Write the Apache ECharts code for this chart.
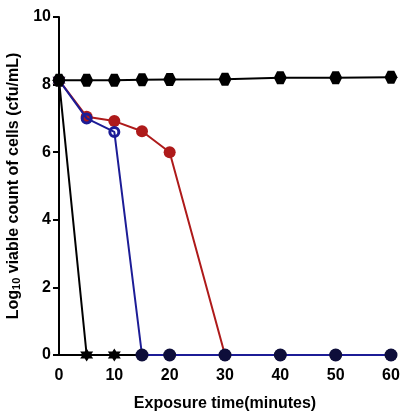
<!DOCTYPE html>
<html>
<head>
<meta charset="utf-8">
<script src="https://cdn.jsdelivr.net/npm/echarts@6/dist/echarts.min.js"></script>
<style>
  html, body { margin: 0; padding: 0; background: #fff; }
  #chart { width: 402px; height: 414px; }
</style>
</head>
<body>
<div id="chart"></div>
<script>
// sampling times (minutes)
const times = [0, 5, 10, 15, 20, 30, 40, 50, 60];
// log10 cfu/mL per treatment
const control = [8.13, 8.13, 8.13, 8.14, 8.15, 8.16, 8.2, 8.2, 8.22];
const redVals = [8.13, 7.05, 6.92, 6.62, 6.0, 0, 0, 0, 0];
const blueVals = [8.13, 7.0, 6.6, 0, 0, 0, 0, 0, 0];
const fastKill = [8.13, 0, 0];
const yTicks = [0, 2, 4, 6, 8, 10];

const hexagon = 'path://M2,0 L6,0 L8,3.5 L6,7 L2,7 L0,3.5 Z';
const star6 = 'path://M5,0 L6.5,2.4 L10,2.4 L8.2,5 L10,7.6 L6.5,7.6 L5,10 L3.5,7.6 L0,7.6 L1.8,5 L0,2.4 L3.5,2.4 Z';
// thick ring (outer cw, inner ccw so the middle stays open)
const ring = 'path://M0,5 A5,5 0 1,1 10,5 A5,5 0 1,1 0,5 Z M2.5,5 A2.5,2.5 0 1,0 7.5,5 A2.5,2.5 0 1,0 2.5,5 Z';

const pairs = vals => vals.map((v, i) => [times[i], v]);

const chart = echarts.init(document.getElementById('chart'));

const font = 'Liberation Sans, Arial, sans-serif';

chart.setOption({
  animation: false,
  grid: { left: 59, right: 11, top: 17, bottom: 59, outerBoundsMode: 'none' },
  xAxis: {
    type: 'value',
    min: 0, max: 60, interval: 10,
    name: 'Exposure time(minutes)',
    nameLocation: 'middle',
    nameGap: 41,
    nameTextStyle: { fontFamily: font, fontWeight: 'bold', fontSize: 16, color: '#000' },
    axisLine: { onZero: false, lineStyle: { color: '#000', width: 2 } },
    axisTick: { show: false },
    axisLabel: { fontFamily: font, fontWeight: 'bold', fontSize: 16, color: '#000', margin: 13 },
    splitLine: { show: false }
  },
  yAxis: {
    type: 'value',
    min: 0, max: 10, interval: 2,
    name: '{a|Log}{s|10}{a| viable count of cells (cfu/mL)}',
    nameLocation: 'middle',
    nameGap: 30,
    nameTextStyle: {
      rich: {
        a: { fontFamily: font, fontWeight: 'bold', fontSize: 16, color: '#000', lineHeight: 18 },
        s: { fontFamily: font, fontWeight: 'bold', fontSize: 11, color: '#000', lineHeight: 18, verticalAlign: 'bottom', padding: [6, 0, 0, 0] }
      }
    },
    axisLine: { show: true, lineStyle: { color: '#000', width: 2 } },
    axisTick: { show: true, length: 6, lineStyle: { color: '#000', width: 2 } },
    axisLabel: {
      fontFamily: font, fontWeight: 'bold', fontSize: 16, color: '#000', margin: 8,
      formatter: v => yTicks.includes(v) ? String(v) : ''
    },
    splitLine: { show: false }
  },
  series: [
    {
      name: 'fast',
      type: 'line',
      data: pairs(fastKill),
      symbol: star6,
      symbolSize: 13,
      showSymbol: true,
      lineStyle: { color: '#000', width: 2 },
      itemStyle: { color: '#000' },
      z: 3
    },
    {
      name: 'red',
      type: 'line',
      data: pairs(redVals).map(p => ({
        value: p,
        itemStyle: p[1] === 0 ? { color: '#0e0e3a' } : { color: '#ae1a1a' }
      })),
      symbol: 'circle',
      symbolSize: 12,
      lineStyle: { color: '#ae1a1a', width: 2 },
      itemStyle: { color: '#ae1a1a' },
      z: 4
    },
    {
      name: 'blue',
      type: 'line',
      data: pairs(blueVals).map(p => ({
        value: p,
        symbol: p[1] === 0 ? 'circle' : ring,
        symbolSize: p[1] === 0 ? 13 : 12,
        itemStyle: p[1] === 0 ? { color: '#0e0e3a' } : { color: '#1c1c96' }
      })),
      lineStyle: { color: '#1c1c96', width: 2 },
      itemStyle: { color: '#1c1c96' },
      z: 5
    },
    {
      name: 'control',
      type: 'line',
      data: pairs(control),
      symbol: hexagon,
      symbolSize: 13,
      lineStyle: { color: '#000', width: 2 },
      itemStyle: { color: '#000' },
      z: 6
    }
  ]
});
</script>
</body>
</html>
